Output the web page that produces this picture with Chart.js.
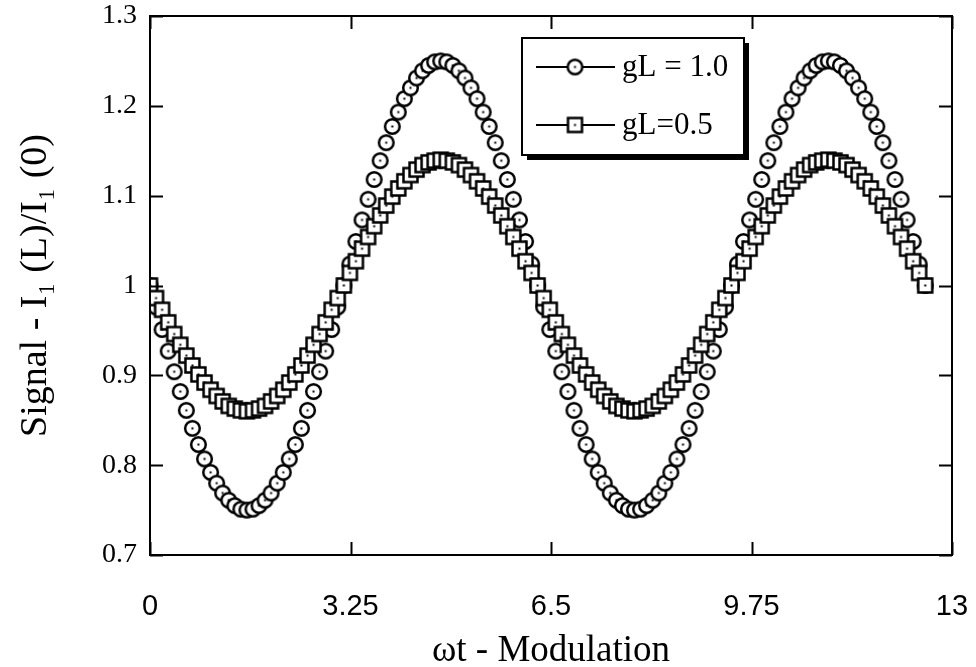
<!DOCTYPE html>
<html>
<head>
<meta charset="utf-8">
<script src="https://cdn.jsdelivr.net/npm/chart.js@4.4.1/dist/chart.umd.min.js"></script>
<style>
  html, body { margin: 0; padding: 0; background: #fff; }
  #wrap { width: 976px; height: 667px; }
</style>
</head>
<body>
<div id="wrap"><canvas id="signalChart"></canvas></div>
<script>
'use strict';

// Data
// --------------------------------------------------------------------
const seriesNames = ['gL = 1.0', 'gL=0.5'];

const omegaT = [
  0, 0.098, 0.196, 0.295, 0.393, 0.491, 0.589, 0.687, 0.785, 0.884, 0.982, 1.080, 1.178, 1.276, 1.374, 1.473,
  1.571, 1.669, 1.767, 1.865, 1.963, 2.062, 2.160, 2.258, 2.356, 2.454, 2.553, 2.651, 2.749, 2.847, 2.945, 3.043,
  3.142, 3.240, 3.338, 3.437, 3.535, 3.633, 3.731, 3.829, 3.927, 4.025, 4.123, 4.222, 4.320, 4.418, 4.516, 4.614,
  4.712, 4.811, 4.909, 5.007, 5.105, 5.203, 5.301, 5.400, 5.498, 5.596, 5.694, 5.792, 5.890, 5.989, 6.087, 6.185,
  6.283, 6.381, 6.480, 6.578, 6.676, 6.774, 6.872, 6.970, 7.069, 7.167, 7.265, 7.363, 7.461, 7.560, 7.658, 7.756,
  7.854, 7.952, 8.050, 8.149, 8.247, 8.345, 8.443, 8.541, 8.639, 8.738, 8.836, 8.934, 9.032, 9.130, 9.228, 9.327,
  9.425, 9.523, 9.621, 9.719, 9.817, 9.916, 10.014, 10.112, 10.210, 10.308, 10.407, 10.505, 10.603, 10.701, 10.799, 10.897,
  10.996, 11.094, 11.192, 11.290, 11.388, 11.486, 11.585, 11.683, 11.781, 11.879, 11.977, 12.076, 12.174, 12.272, 12.370, 12.468,
  12.566
];

const signalGL10 = [
  1.000, 0.976, 0.951, 0.927, 0.904, 0.882, 0.861, 0.841, 0.823, 0.807, 0.792, 0.780, 0.769, 0.761, 0.755, 0.751,
  0.750, 0.751, 0.755, 0.761, 0.769, 0.780, 0.792, 0.807, 0.823, 0.841, 0.861, 0.882, 0.904, 0.927, 0.951, 0.976,
  1.000, 1.024, 1.049, 1.073, 1.096, 1.118, 1.139, 1.159, 1.177, 1.193, 1.208, 1.220, 1.231, 1.239, 1.245, 1.249,
  1.250, 1.249, 1.245, 1.239, 1.231, 1.220, 1.208, 1.193, 1.177, 1.159, 1.139, 1.118, 1.096, 1.073, 1.049, 1.024,
  1.000, 0.976, 0.951, 0.927, 0.904, 0.882, 0.861, 0.841, 0.823, 0.807, 0.792, 0.780, 0.769, 0.761, 0.755, 0.751,
  0.750, 0.751, 0.755, 0.761, 0.769, 0.780, 0.792, 0.807, 0.823, 0.841, 0.861, 0.882, 0.904, 0.927, 0.951, 0.976,
  1.000, 1.024, 1.049, 1.073, 1.096, 1.118, 1.139, 1.159, 1.177, 1.193, 1.208, 1.220, 1.231, 1.239, 1.245, 1.249,
  1.250, 1.249, 1.245, 1.239, 1.231, 1.220, 1.208, 1.193, 1.177, 1.159, 1.139, 1.118, 1.096, 1.073, 1.049, 1.024,
  1.000
];

const signalGL05 = [
  1.000, 0.986, 0.973, 0.959, 0.946, 0.934, 0.922, 0.911, 0.901, 0.892, 0.884, 0.877, 0.871, 0.866, 0.863, 0.861,
  0.860, 0.861, 0.863, 0.866, 0.871, 0.877, 0.884, 0.892, 0.901, 0.911, 0.922, 0.934, 0.946, 0.959, 0.973, 0.986,
  1.000, 1.014, 1.027, 1.041, 1.054, 1.066, 1.078, 1.089, 1.099, 1.108, 1.116, 1.123, 1.129, 1.134, 1.137, 1.139,
  1.140, 1.139, 1.137, 1.134, 1.129, 1.123, 1.116, 1.108, 1.099, 1.089, 1.078, 1.066, 1.054, 1.041, 1.027, 1.014,
  1.000, 0.986, 0.973, 0.959, 0.946, 0.934, 0.922, 0.911, 0.901, 0.892, 0.884, 0.877, 0.871, 0.866, 0.863, 0.861,
  0.860, 0.861, 0.863, 0.866, 0.871, 0.877, 0.884, 0.892, 0.901, 0.911, 0.922, 0.934, 0.946, 0.959, 0.973, 0.986,
  1.000, 1.014, 1.027, 1.041, 1.054, 1.066, 1.078, 1.089, 1.099, 1.108, 1.116, 1.123, 1.129, 1.134, 1.137, 1.139,
  1.140, 1.139, 1.137, 1.134, 1.129, 1.123, 1.116, 1.108, 1.099, 1.089, 1.078, 1.066, 1.054, 1.041, 1.027, 1.014,
  1.000
];

const xTickValues = [0, 3.25, 6.5, 9.75, 13];
const yTickValues = [0.7, 0.8, 0.9, 1.0, 1.1, 1.2, 1.3];

// Markers: open circle / open square with a dot in the middle
// --------------------------------------------------------------------
function makeMarker(kind) {
  const c = document.createElement('canvas');
  c.width = 19;
  c.height = 19;
  const g = c.getContext('2d');
  g.lineWidth = 2.5;
  g.strokeStyle = '#000';
  g.fillStyle = '#fff';
  g.beginPath();
  if (kind === 'circle') {
    g.arc(9.5, 9.5, 7.3, 0, Math.PI * 2);
  } else {
    g.rect(2.5, 2.5, 14, 14);
  }
  g.fill();
  g.stroke();
  g.fillStyle = '#000';
  g.fillRect(8.5, 8.5, 2, 2);
  return c;
}
const circleMarker = makeMarker('circle');
const squareMarker = makeMarker('square');

const serif = "'Liberation Serif', 'DejaVu Serif', serif";
const sans = "'Liberation Sans', Arial, sans-serif";

// Frame box with inward ticks on all four sides
const framePlugin = {
  id: 'frame',
  afterDraw(chart) {
    const { ctx, chartArea: a, scales } = chart;
    ctx.save();
    ctx.strokeStyle = '#000';
    ctx.lineWidth = 2;
    ctx.strokeRect(a.left, a.top, a.right - a.left, a.bottom - a.top);
    ctx.beginPath();
    yTickValues.forEach(v => {
      const y = Math.round(scales.y.getPixelForValue(v)) + 0.5;
      ctx.moveTo(a.left, y); ctx.lineTo(a.left + 13, y);
      ctx.moveTo(a.right, y); ctx.lineTo(a.right - 13, y);
    });
    xTickValues.forEach(v => {
      const x = Math.round(scales.x.getPixelForValue(v)) + 0.5;
      ctx.moveTo(x, a.bottom); ctx.lineTo(x, a.bottom - 13);
      ctx.moveTo(x, a.top); ctx.lineTo(x, a.top + 13);
    });
    ctx.stroke();
    ctx.restore();
  }
};

// Boxed legend with drop shadow, inside the plot
const legendBoxPlugin = {
  id: 'legendBox',
  afterDraw(chart) {
    const ctx = chart.ctx;
    const bx = 522, by = 38, bw = 222, bh = 117;
    ctx.save();
    ctx.fillStyle = '#000';
    ctx.fillRect(bx + 5, by + 5, bw, bh);
    ctx.fillStyle = '#fff';
    ctx.fillRect(bx, by, bw, bh);
    ctx.strokeStyle = '#000';
    ctx.lineWidth = 2;
    ctx.strokeRect(bx, by, bw, bh);
    const rows = [
      { y: by + 29, marker: circleMarker, label: seriesNames[0] },
      { y: by + 87, marker: squareMarker, label: seriesNames[1] }
    ];
    ctx.font = '31px ' + serif;
    ctx.textBaseline = 'middle';
    rows.forEach(r => {
      ctx.beginPath();
      ctx.moveTo(bx + 14, r.y);
      ctx.lineTo(bx + 93, r.y);
      ctx.lineWidth = 2;
      ctx.stroke();
      ctx.drawImage(r.marker, bx + 53 - 9.5, r.y - 9.5);
      ctx.fillStyle = '#000';
      ctx.fillText(r.label, bx + 100, r.y + 1);
    });
    ctx.restore();
  }
};

const signalChart = document.getElementById('signalChart');
if (signalChart) {
  const signalChartVar = new Chart(signalChart, {
    type: 'scatter',
    data: {
      datasets: [
        {
          label: seriesNames[1],
          data: omegaT.map((x, i) => ({ x: x, y: signalGL05[i] })),
          pointStyle: squareMarker,
          showLine: false,
          order: 0
        },
        {
          label: seriesNames[0],
          data: omegaT.map((x, i) => ({ x: x, y: signalGL10[i] })),
          pointStyle: circleMarker,
          showLine: false,
          order: 1
        }
      ]
    },
    options: {
      responsive: true,
      maintainAspectRatio: false,
      animation: false,
      layout: {
        padding: { left: 0, right: 24, top: 16, bottom: 0 }
      },
      plugins: {
        legend: { display: false },
        tooltip: { enabled: false }
      },
      scales: {
        x: {
          type: 'linear',
          min: 0,
          max: 13,
          afterFit(scale) {
            scale.height = 112;
            scale.paddingLeft = 0;
            scale.paddingRight = 0;
          },
          afterBuildTicks(scale) { scale.ticks = xTickValues.map(v => ({ value: v })); },
          grid: { display: false, drawTicks: false },
          border: { display: false },
          ticks: {
            color: '#000',
            padding: 35,
            maxRotation: 0,
            font: { family: sans, size: 29 },
            callback: v => String(v)
          },
          title: {
            display: true,
            text: 'ωt - Modulation',
            color: '#000',
            font: { family: serif, size: 37, lineHeight: 0.85 },
            padding: { top: 0, bottom: 0 }
          }
        },
        y: {
          min: 0.7,
          max: 1.3,
          afterFit(scale) {
            scale.width = 150;
            scale.paddingTop = 0;
            scale.paddingBottom = 0;
          },
          afterBuildTicks(scale) { scale.ticks = yTickValues.map(v => ({ value: v })); },
          grid: { display: false, drawTicks: false },
          border: { display: false },
          ticks: {
            color: '#000',
            padding: 13,
            font: { family: serif, size: 28 },
            callback: v => String(v)
          },
          title: {
            display: true,
            text: 'Signal - I\u2081 (L)/I\u2081 (0)',
            color: '#000',
            font: { family: serif, size: 38, lineHeight: 1 },
            padding: { top: 17, bottom: 0 }
          }
        }
      }
    },
    plugins: [framePlugin, legendBoxPlugin]
  });
}
</script>
</body>
</html>
